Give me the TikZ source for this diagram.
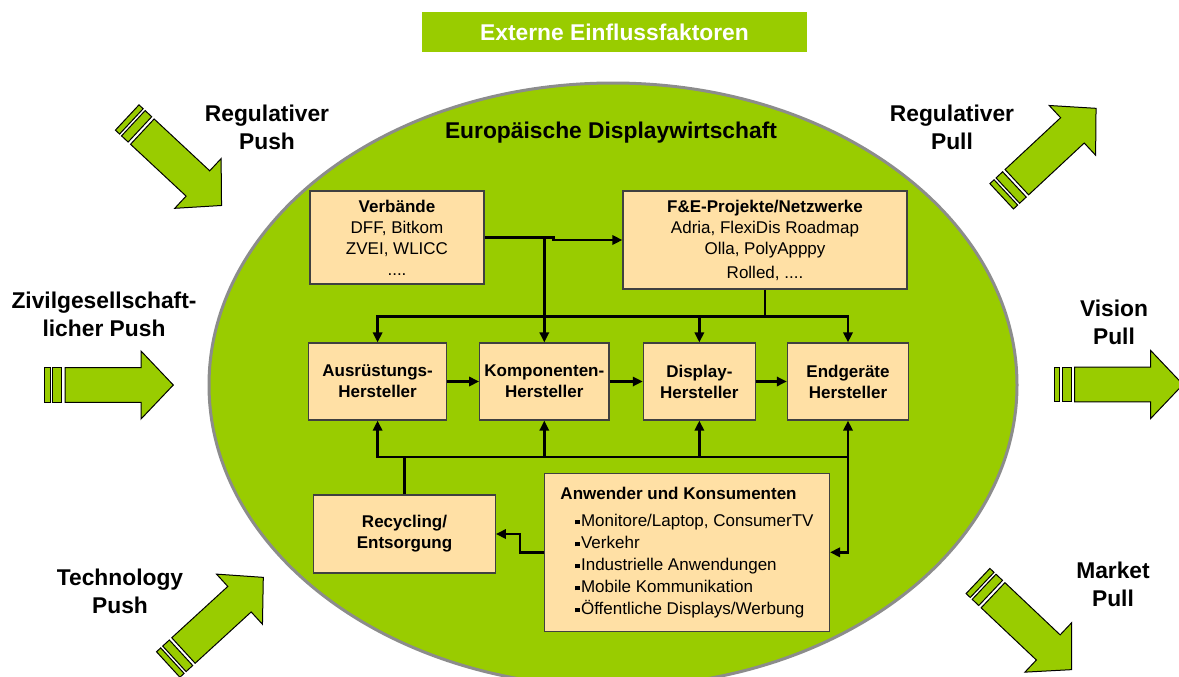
\documentclass[tikz,border=0pt]{standalone}
\usepackage{fontspec}
\setmainfont{Liberation Sans}
\usetikzlibrary{arrows.meta}
\definecolor{leaf}{HTML}{99CC00}
\definecolor{peach}{HTML}{FFE0A5}
\newcommand{\sqbul}{\rule[0.9pt]{2.2pt}{2.2pt}\kern0.6pt}

\begin{document}
\begin{tikzpicture}[x=0.5pt, y=-0.5pt,
    box/.style={draw=black!75, line width=0.6pt, fill=peach, align=center, inner sep=0pt,
      font=\fontsize{8.5}{10.5}\selectfont},
    stage/.style={box, font=\fontsize{8.5}{10.5}\selectfont\bfseries, minimum height=38.5pt},
    lbl/.style={align=center, font=\fontsize{11.4}{14}\selectfont\bfseries},
    bus/.style={line width=1.4pt},
    flow/.style={bus, -{Triangle[length=5pt,width=4.6pt]}},
    force/.pic={
      \draw[fill=leaf, line width=0.5pt] (0,-17.3) rectangle (5.7,17.3);
      \draw[fill=leaf, line width=0.5pt] (8.4,-17.3) rectangle (17.4,17.3);
      \draw[fill=leaf, line width=0.5pt] (20.7,-17.3) -- (96.7,-17.3) -- (96.7,-34) -- (129,0)
        -- (96.7,34) -- (96.7,17.3) -- (20.7,17.3) -- cycle;
    }]
    \useasboundingbox (0,0) rectangle (1179,676);
    \draw[fill=leaf, draw=black!45, line width=1.5pt] (613,385) ellipse [x radius=202pt, y radius=151pt];

    \pic[rotate=-43] at (127.2,117.5) {force};
    \pic[rotate=43] at (1001.7,196.3) {force};
    \pic at (44.3,385) {force};
    \pic at (1054,384.5) {force};
    \pic[rotate=42.5] at (168.2,664.5) {force};
    \pic[rotate=-43.4] at (978,581) {force};

    \node[fill=leaf, minimum width=192.5pt, minimum height=20pt, text=white,
      font=\fontsize{11.4}{14}\selectfont\bfseries] (ext) at (614.5,32) {Externe Einflussfaktoren};
    \node[lbl] (rpush) at (267,127) {Regulativer\\Push};
    \node[lbl] (rpull) at (952,127) {Regulativer\\Pull};
    \node[lbl] (zpush) at (104,314) {Zivilgesellschaft-\\licher Push};
    \node[lbl] (vpull) at (1114,322) {Vision\\Pull};
    \node[lbl] (tpush) at (120,591) {Technology\\Push};
    \node[lbl] (mpull) at (1113,584) {Market\\Pull};
    \node[lbl] (eu) at (611,133) {Europäische Displaywirtschaft};

    \node[box, minimum width=87pt, minimum height=46.5pt] (verb) at (397,237.5)
      {\textbf{Verbände}\\DFF, Bitkom\\ZVEI, WLICC\\....};
    \node[box, minimum width=142pt, minimum height=49pt] (fue) at (765,240)
      {\textbf{F\&E-Projekte/Netzwerke}\\Adria, FlexiDis Roadmap\\Olla, PolyApppy\\[1.5pt]Rolled, ....};
    \node[stage, minimum width=68.9pt] (ausr) at (377.6,381.5) {Ausrüstungs-\\Hersteller};
    \node[stage, minimum width=64.6pt] (komp) at (544.3,381.5) {Komponenten-\\Hersteller};
    \node[stage, minimum width=56pt] (disp) at (699.35,381.5) {Display-\\Hersteller};
    \node[stage, minimum width=60.6pt] (endg) at (848,381.5) {Endgeräte\\Hersteller};
    \node[stage, minimum width=90.8pt, minimum height=39pt] (recy) at (404.5,534) {Recycling/\\Entsorgung};
    \node[box, minimum width=142.4pt, minimum height=78.9pt, align=left,
      font=\fontsize{8.5}{11}\selectfont] (anw) at (687,552.3)
      {\textbf{Anwender und Konsumenten}\\[2.5pt]
       \hspace*{7.5pt}\sqbul Monitore/Laptop, ConsumerTV\\
       \hspace*{7.5pt}\sqbul Verkehr\\
       \hspace*{7.5pt}\sqbul Industrielle Anwendungen\\
       \hspace*{7.5pt}\sqbul Mobile Kommunikation\\
       \hspace*{7.5pt}\sqbul Öffentliche Displays/Werbung};

    \draw[flow] (verb.east) -- ++(69,0) |- (fue.west);
    \draw[flow] (komp.north |- verb.east) -- (komp.north);
    \draw[bus] (fue.south) -- ++(0,27) coordinate (hub);
    \draw[flow] (hub) -| (ausr.north);
    \draw[flow] (hub) -| (endg.north);
    \draw[flow] (disp.north |- hub) -- (disp.north);

    \draw[flow] (ausr) -- (komp);
    \draw[flow] (komp) -- (disp);
    \draw[flow] (disp) -- (endg);

    \draw[bus] (recy.north) -- ++(0,-37.5) coordinate (low);
    \draw[flow] (low) -| (ausr.south);
    \draw[flow] (low) -| (endg.south);
    \draw[flow] (komp.south |- low) -- (komp.south);
    \draw[flow] (disp.south |- low) -- (disp.south);
    \draw[flow] (endg.south |- low) |- (anw.east);
    \draw[flow] (anw.west) -- ++(-24,0) |- (recy.east);
\end{tikzpicture}
\end{document}
